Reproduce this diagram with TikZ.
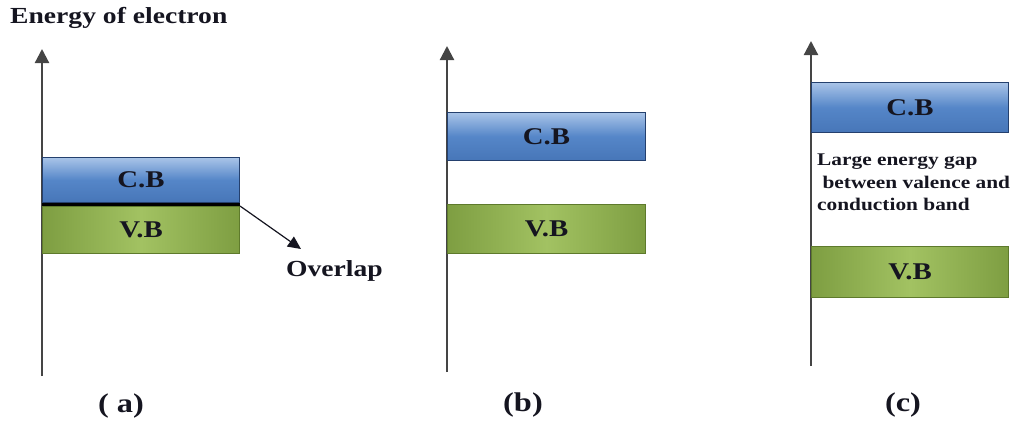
\documentclass[tikz,border=0pt]{standalone}
\usepackage{fontspec}
\usetikzlibrary{arrows.meta}
\newfontfamily\bandfont[FakeStretch=1.2]{Liberation Serif Bold}
\definecolor{txt}{HTML}{151520}
\definecolor{axisgray}{HTML}{454545}
\definecolor{cbtop}{HTML}{A9C4E8}
\definecolor{cbmid}{HTML}{5586C8}
\definecolor{cbbot}{HTML}{4776B8}
\definecolor{cbedge}{HTML}{24406E}
\definecolor{vbedge}{HTML}{5E7A2C}
\definecolor{vbside}{HTML}{7E9E42}
\definecolor{vbmid}{HTML}{A2C262}
\tikzset{
  x=1pt, y=-1pt,
  axisline/.style={draw=axisgray, line width=2.2pt, -{Triangle[length=14pt,width=14pt]}},
  cbband/.style={rectangle, inner sep=0pt, top color=cbtop, bottom color=cbbot, middle color=cbmid, draw=cbedge, line width=1pt, text=txt, font=\bandfont\fontsize{24}{27}\selectfont},
  vbband/.style={rectangle, inner sep=0pt, left color=vbside, right color=vbside, middle color=vbmid, draw=vbedge, line width=1pt, text=txt, font=\bandfont\fontsize{24}{27}\selectfont},
  lbl/.style={text=txt, inner sep=0pt, font=\bandfont\fontsize{23}{26}\selectfont},
  caplbl/.style={text=txt, inner sep=0pt, font=\bandfont\fontsize{27}{30}\selectfont},
  gaptxt/.style={text=txt, inner sep=0pt, align=left, font=\bandfont\fontsize{17.8}{22.5}\selectfont},
  pointer/.style={draw=txt, line width=1.2pt, -{Triangle[length=13pt,width=12pt]}}
}
\begin{document}
\begin{tikzpicture}
\useasboundingbox (0,0) rectangle (1029,424);
% title
\node[lbl, anchor=west] (title) at (10,18) {Energy of electron};
% (a)
\coordinate (a0) at (42,376);
\coordinate (a1) at (42,49);
\draw[axisline] (a0) -- (a1);
\node[cbband, minimum width=197pt, minimum height=45pt, anchor=north west] (cba) at (42,157) {C.B};
\node[vbband, minimum width=197pt, minimum height=47pt, anchor=north west] (vba) at (42,206) {V.B};
\fill[black] (cba.south west) rectangle (vba.north east);
\coordinate (ovtip) at (301,249);
\node[lbl, anchor=west] (ov) at (286,271) {Overlap};
\draw[pointer] (vba.north east) -- (ovtip);
\node[caplbl] (capa) at (121,406) {( a)};
% (b)
\coordinate (b0) at (447,372);
\coordinate (b1) at (447,46);
\draw[axisline] (b0) -- (b1);
\node[cbband, minimum width=198pt, minimum height=48pt, anchor=north west] (cbb) at (447,112) {C.B};
\node[vbband, minimum width=198pt, minimum height=49pt, anchor=north west] (vbb) at (447,204) {V.B};
\node[caplbl] (capb) at (523,405) {(b)};
% (c)
\coordinate (c0) at (811,366);
\coordinate (c1) at (811,41);
\draw[axisline] (c0) -- (c1);
\node[cbband, minimum width=197pt, minimum height=50pt, anchor=north west] (cbc) at (811,82) {C.B};
\node[vbband, minimum width=197pt, minimum height=51pt, anchor=north west] (vbc) at (811,246) {V.B};
\node[gaptxt, anchor=north west] (gap) at (817,154) {Large energy gap\\\ between valence and\\conduction band};
\node[caplbl] (capc) at (903,405) {(c)};
\end{tikzpicture}
\end{document}
